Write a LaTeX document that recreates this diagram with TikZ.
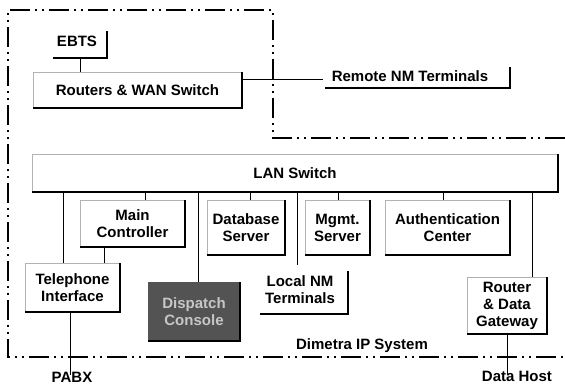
\documentclass[tikz,border=0pt]{standalone}
\usepackage{fontspec}
\setmainfont{Liberation Sans}
\begin{document}
\begin{tikzpicture}[x=1pt,y=-1pt,
  lbl/.style={font=\bfseries\fontsize{15}{17}\selectfont, align=center, inner sep=0pt},
  bx/.style={lbl, fill=white},
  conn/.style={line width=0.9pt},
  brk/.style={line width=1.4pt},
  border/.style={line width=1.5pt, dash pattern=on 20pt off 5pt on 2pt off 5pt on 2pt off 5pt},
  thinedge/.style={gray!60, line width=0.6pt},
  thickedge/.style={black, line width=1.8pt}]
\useasboundingbox (0,0) rectangle (565,389);
% system border
\draw[border] (565,138) -- (273,138) -- (273,10) -- (8,10) -- (8,357) -- (565,357);
% boxes
\node[bx, minimum width=209pt, minimum height=36pt] (routers) at (137.5,90) {Routers \& WAN Switch};
\node[bx, minimum width=525pt, minimum height=37pt] (lan) at (295,173) {LAN Switch};
\node[bx, minimum width=105pt, minimum height=47pt] (mainc) at (132.5,223.5) {Main\\Controller};
\node[bx, minimum width=78pt, minimum height=55pt] (db) at (246,227.5) {Database\\Server};
\node[bx, minimum width=65pt, minimum height=55pt] (mgmt) at (337.5,227.5) {Mgmt.\\Server};
\node[bx, minimum width=125pt, minimum height=55pt] (auth) at (447.5,227.5) {Authentication\\Center};
\node[bx, minimum width=95pt, minimum height=49pt] (tel) at (72.5,287.5) {Telephone\\Interface};
\node[lbl, fill=gray!65!black, text=gray!45, minimum width=92pt, minimum height=59pt] (disp) at (194,311.5) {Dispatch\\Console};
\node[bx, minimum width=80pt, minimum height=56pt] (router) at (507,305.5) {Router\\\& Data\\Gateway};
\foreach \n in {routers,lan,mainc,db,mgmt,auth,tel,router}{
  \draw[thinedge] (\n.south west) -- (\n.north west) -- (\n.north east);
}
\foreach \n in {routers,lan,mainc,db,mgmt,auth,tel,router,disp}{
  \draw[thickedge] (\n.north east) -- (\n.south east) -- (\n.south west);
}
% plain labels
\node[lbl] (ebts) at (77,41) {EBTS};
\node[lbl] (remote) at (410,76) {Remote NM Terminals};
\node[lbl] (local) at (300,290) {Local NM\\Terminals};
\node[lbl] (dimetra) at (362,346) {Dimetra IP System};
\node[lbl] (pabx) at (72,377) {PABX};
\node[lbl] (host) at (517,376) {Data Host};
% brackets
\coordinate (ebtsL) at (53,58);
\coordinate (ebtsC) at (80,58);
\coordinate (ebtsR) at (107,58);
\coordinate (ebtsT) at (107,31);
\draw[brk] (ebtsL) -- (ebtsR) -- (ebtsT);
\coordinate (remL) at (325,88);
\coordinate (remR) at (510,88);
\coordinate (remT) at (510,67);
\coordinate (remC) at (323,79);
\draw[brk] (remL) -- (remR) -- (remT);
\coordinate (locL) at (260,314);
\coordinate (locR) at (348,314);
\coordinate (locT) at (348,271);
\coordinate (locC) at (297,265);
\draw[brk] (locL) -- (locR) -- (locT);
% connectors
\draw[conn] (ebtsC) -- (routers.north -| ebtsC);
\draw[conn] (routers.east |- remC) -- (remC);
\draw[conn] (lan.south -| 145,0) -- (mainc.north -| 145,0);
\draw[conn] (lan.south -| 63,0) -- (tel.north -| 63,0);
\draw[conn] (mainc.south -| 104,0) -- (tel.north -| 104,0);
\draw[conn] (lan.south -| 198,0) -- (disp.north -| 198,0);
\draw[conn] (lan.south -| 250,0) -- (db.north -| 250,0);
\draw[conn] (lan.south -| locC) -- (locC);
\draw[conn] (lan.south -| 338,0) -- (mgmt.north -| 338,0);
\draw[conn] (lan.south -| 443,0) -- (auth.north -| 443,0);
\draw[conn] (lan.south -| 532,0) -- (router.north -| 532,0);
\draw[conn] (tel.south -| 70,0) -- ([yshift=-3pt]pabx.north -| 70,0);
\draw[conn] (router.south -| 507,0) -- ([yshift=-4pt]host.north -| 507,0);
\end{tikzpicture}
\end{document}
